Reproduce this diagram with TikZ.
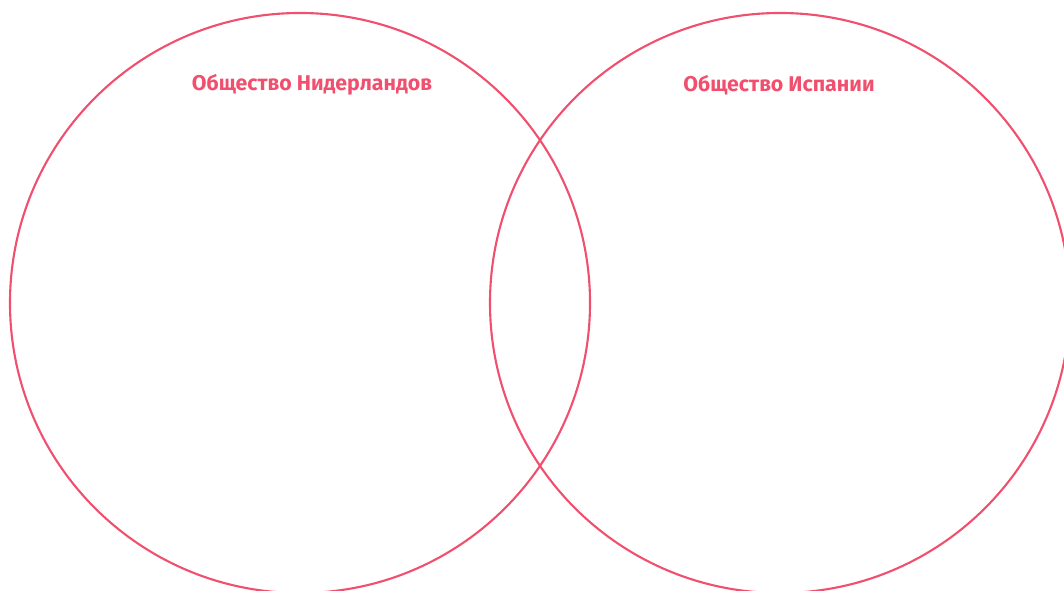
\documentclass[tikz,border=0pt]{standalone}
\usepackage{fontspec}
\setmainfont{Fira Sans}
\usepackage{tikz}
\definecolor{vennred}{RGB}{240,80,110}

\begin{document}
\begin{tikzpicture}[
    x=0.03cm, y=-0.03cm,
    venn/.style={circle, draw=vennred, line width=1.8pt, minimum size=17.4cm, inner sep=0pt},
    title/.style={text=vennred, font=\bfseries\fontsize{18.2}{21}\selectfont, inner sep=0pt}
  ]
    \useasboundingbox (0,0) rectangle (1064,591);

    % the two sets
    \node[venn] (nl) at (300,303) {};
    \node[venn] (es) at (780,303) {};

    % set labels
    \node[title] (nltitle) at (312,85) {Общество Нидерландов};
    \node[title] (estitle) at (779,85) {Общество Испании};

  \end{tikzpicture}
\end{document}
